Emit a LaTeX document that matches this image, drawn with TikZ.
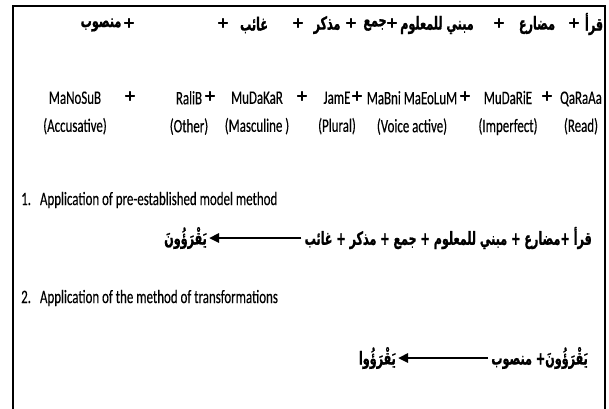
\documentclass[tikz,border=0pt]{standalone}
\usepackage{fontspec}
\setmainfont[FakeStretch=0.68,FakeBold=0.3]{Carlito}
\newfontfamily\arabicfont[Script=Arabic,FakeStretch=0.62,BoldFeatures={FakeBold=1}]{DejaVu Sans}
\newfontfamily\plusfont[FakeBold=1.5]{DejaVu Sans}
\TeXXeTstate=1
\usetikzlibrary{arrows.meta,positioning}
\newcommand{\ar}[1]{{\arabicfont\bfseries\beginR #1\endR}}
\tikzset{
  arword/.style={inner sep=0pt, font=\fontsize{18}{20}\selectfont},
  plus/.style={inner sep=0pt, font=\fontsize{15}{18}\selectfont\plusfont\bfseries},
  term/.style={inner sep=0pt, align=center, font=\fontsize{19}{28}\selectfont},
  heading/.style={inner sep=0pt, anchor=west, font=\fontsize{19}{22}\selectfont},
  fatarrow/.style={-{Triangle[length=10pt,width=9pt]}, line width=2.6pt, shorten <=3pt, shorten >=2pt},
}
\begin{document}
\begin{tikzpicture}[x=1pt,y=-1pt]
  \useasboundingbox (0,0) rectangle (609,408);
  % Frame (open at the bottom)
  \draw[line width=2pt] (13,410) -- (13,6) -- (605,6) -- (605,410);
  % Row 1: Arabic terms
  \node[arword] (qara) at (594,24) {\ar{قرأ}};
  \node[arword] (mudari) at (537,25) {\ar{مضارع}};
  \node[arword] (mabni) at (437,25) {\ar{مبني للمعلوم}};
  \node[arword] (jam) at (375,25) {\ar{جمع}};
  \node[arword] (mudakar) at (327,25) {\ar{مذكر}};
  \node[arword] (ghaib) at (254,25) {\ar{غائب}};
  \node[arword] (mansub) at (101,25) {\ar{منصوب}};
  \foreach \x [count=\i] in {574,499,392,351,298,223,129}
    \node[plus] (pa\i) at (\x,23) {+};
  % Row 2: transliteration and gloss
  \node[term] (tmansub) at (75,113) {MaNoSuB\\(Accusative)};
  \node[term] (tghaib) at (189,113) {RaliB\\(Other)};
  \node[term] (tmudakar) at (257,113) {MuDaKaR\\(Masculine )};
  \node[term] (tjam) at (337,113) {JamE\\(Plural)};
  \node[term] (tmabni) at (412,113) {MaBni MaEoLuM\\(Voice active)};
  \node[term] (tmudari) at (508,113) {MuDaRiE\\(Imperfect)};
  \node[term] (tqara) at (581,113) {QaRaAa\\(Read)};
  \foreach \x [count=\i] in {130,210,302,357,465,547}
    \node[plus] (pb\i) at (\x,96) {+};
  % Method 1
  \node[heading] (head1) at (21,200) {1.\hspace{9pt}Application of pre-established model method};
  \node[arword, anchor=east] (expr1) at (592,238) {\ar{قرأ +مضارع + مبني للمعلوم + جمع + مذكر + غائب}};
  \node[arword, anchor=east] (res1) at (207,238) {\ar{يَقْرَؤُونَ}};
  \draw[fatarrow] (expr1.west) -- (res1.east);
  % Method 2
  \node[heading] (head2) at (21,298) {2.\hspace{9pt}Application of the method of transformations};
  \node[arword, anchor=east] (expr2) at (588,358) {\ar{يَقْرَؤُونَ+ منصوب}};
  \node[arword, anchor=east] (res2) at (396,358) {\ar{يَقْرَؤُوا}};
  \draw[fatarrow] (expr2.west) -- (res2.east);
\end{tikzpicture}
\end{document}
